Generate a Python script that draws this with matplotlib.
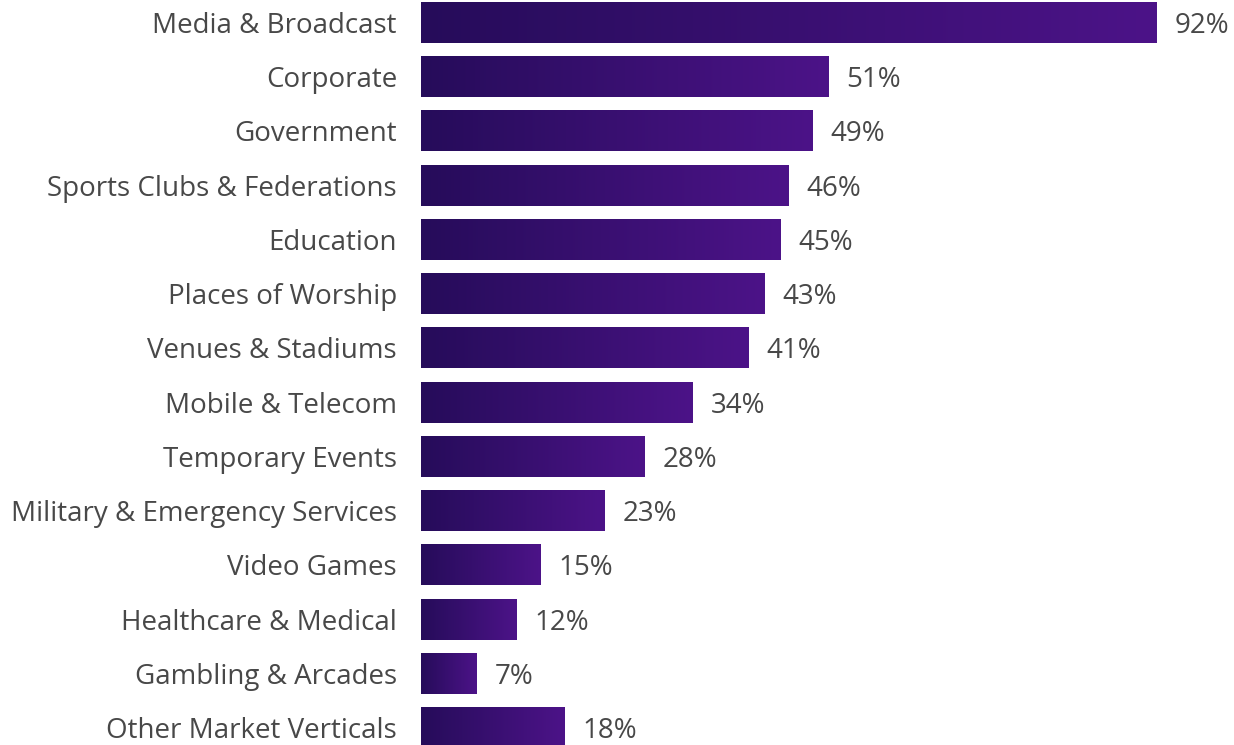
import numpy as np
import matplotlib.pyplot as plt
from matplotlib.colors import LinearSegmentedColormap

categories = ["Media & Broadcast", "Corporate", "Government", "Sports Clubs & Federations",
              "Education", "Places of Worship", "Venues & Stadiums", "Mobile & Telecom",
              "Temporary Events", "Military & Emergency Services", "Video Games",
              "Healthcare & Medical", "Gambling & Arcades", "Other Market Verticals"]
values = [92, 51, 49, 46, 45, 43, 41, 34, 28, 23, 15, 12, 7, 18]

plt.rcParams['font.family'] = ['Open Sans', 'DejaVu Sans']
text_color = "#484848"
cmap = LinearSegmentedColormap.from_list("bar", ["#260c5a", "#4c1388"])
grad = np.linspace(0, 1, 256).reshape(1, -1)

fig = plt.figure(figsize=(12.34, 7.45), dpi=100)
ax = fig.add_axes([421 / 1234, 0, 800 / 1234, 1])

bar_h = 0.756
for i, v in enumerate(values):
    ax.imshow(grad, cmap=cmap, aspect='auto', interpolation='bilinear',
              extent=[0, v, i + bar_h / 2, i - bar_h / 2], zorder=2)
    ax.text(v + 2.2, i, f"{v}%", va='center_baseline', ha='left', fontsize=20,
            color=text_color)
    ax.text(-3.0, i, categories[i], va='center_baseline', ha='right', fontsize=20,
            color=text_color)

ax.set_xlim(0, 100)
ax.set_ylim(13 + 17.5 / 54.23, -22.5 / 54.23)
ax.axis('off')

fig.savefig("out.png", dpi=100)
